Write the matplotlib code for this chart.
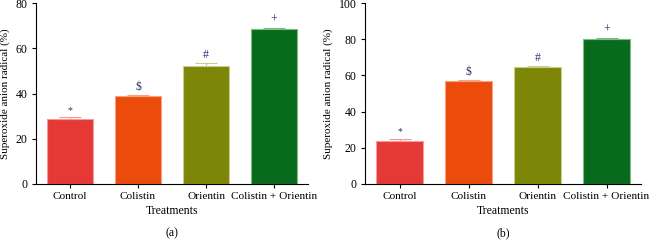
import matplotlib
matplotlib.use('Agg')
import matplotlib.pyplot as plt

plt.rcParams['font.family'] = 'Liberation Serif'
plt.rcParams['font.size'] = 8.3

treatments = ['Control', 'Colistin', 'Orientin', 'Colistin + Orientin']
colors = ['#E53935', '#EB4C0C', '#7E8607', '#086A1C']
edgecolors = ['#F49A98', '#F5A27E', '#C9CE8A', '#7DBB85']
marks = ['*', '$', '#', '+']

values_a = [28.8, 38.7, 52.0, 68.3]
errors_a = [0.8, 0.7, 1.5, 0.7]
values_b = [24.0, 57.0, 64.7, 80.2]
errors_b = [1.0, 0.4, 0.6, 0.6]

W, H = 649, 240
fig = plt.figure(figsize=(W / 100, H / 100), dpi=100)


def panel(rect, values, errors, ymax, ystep, label):
    x0, x1, ytop, ybot = rect
    ax = fig.add_axes([x0 / W, 1 - ybot / H, (x1 - x0) / W, (ybot - ytop) / H])
    xs = range(len(values))
    ax.bar(xs, values, width=0.67, color=colors, edgecolor=edgecolors, linewidth=0.8, zorder=2)
    for x, v, e, c, m in zip(xs, values, errors, edgecolors, marks):
        ax.errorbar(x, v, yerr=[[0], [e]], color=c, capsize=8, elinewidth=0.8,
                    capthick=0.8, zorder=3)
        ax.text(x, v + e + 1.0 * ymax / 80, m, ha='center', va='bottom',
                color='#2B2F6E', fontsize=8.5 if m != '*' else 7)
    ax.set_xlim(-0.5, 3.5)
    ax.set_ylim(0, ymax)
    ax.set_yticks(range(0, ymax + 1, ystep))
    ax.set_xticks(list(xs))
    ax.set_xticklabels(treatments, fontsize=8.1)
    ax.spines['top'].set_visible(False)
    ax.spines['right'].set_visible(False)
    ax.spines['left'].set_linewidth(0.8)
    ax.spines['bottom'].set_linewidth(0.8)
    ax.tick_params(length=3, width=0.8, pad=3)
    ax.tick_params(axis='y', labelsize=8.5)
    ax.set_ylabel('Superoxide anion radical (%)', labelpad=4, fontsize=8)
    ax.set_xlabel('Treatments', labelpad=3, fontsize=8.5)
    ax.text(0.5, -0.27, label, transform=ax.transAxes, ha='center', va='center',
            fontsize=8.5)
    return ax


panel((36, 308, 3, 184), values_a, errors_a, 80, 20, '(a)')
panel((365, 641, 3, 184), values_b, errors_b, 100, 20, '(b)')

fig.savefig('out.png', dpi=100)
